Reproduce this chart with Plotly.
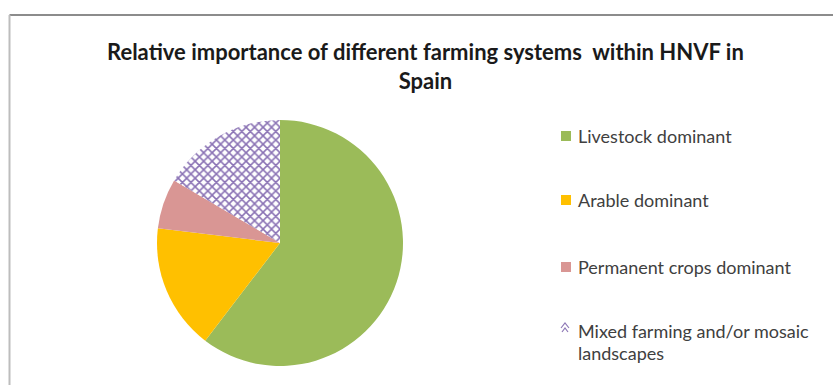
import plotly.graph_objects as go

W, H = 833, 385

# Share of HNVF area by farming system
labels = ["Livestock dominant", "Arable dominant", "Permanent crops dominant",
          "Mixed farming and/or mosaic landscapes"]
values = [60.4, 16.5, 6.6, 16.5]
colors = ["#9BBB59", "#FFC000", "#D99694", "#FFFFFF"]
legend_lines = [["Livestock dominant"], ["Arable dominant"], ["Permanent crops dominant"],
                ["Mixed farming and/or mosaic", "landscapes"]]
title_text = "Relative importance of different farming systems  within HNVF in<br>Spain"


def px(x, y):
    """Convert pixel position (from top-left) to paper coordinates."""
    return x / W, 1 - y / H


cx, cy, r = 280, 243, 123
dx0, dy0 = px(cx - r, cy + r)
dx1, dy1 = px(cx + r, cy - r)

fig = go.Figure(go.Pie(
    labels=labels,
    values=values,
    sort=False,
    direction="clockwise",
    rotation=0,
    textinfo="none",
    hoverinfo="label+percent",
    showlegend=False,
    domain=dict(x=[dx0, dx1], y=[dy0, dy1]),
    marker=dict(
        colors=colors,
        line=dict(width=0),
        pattern=dict(
            shape=["", "", "", "x"],
            fgcolor="#8A72B4",
            bgcolor=["#9BBB59", "#FFC000", "#D99694", "#FFFFFF"],
            size=6,
            solidity=0.45,
        ),
    ),
))

shapes = []
annotations = []

# chart frame (top and left edges visible)
x0, y0 = px(9.5, 15)
x1, _ = px(W + 5, 15)
shapes.append(dict(type="line", xref="paper", yref="paper", x0=x0, y0=y0, x1=x1, y1=y0,
                   line=dict(color="#8C8C8C", width=2)))
_, yb = px(9.5, H + 5)
shapes.append(dict(type="line", xref="paper", yref="paper", x0=x0, y0=y0, x1=x0, y1=yb,
                   line=dict(color="#BDBDBD", width=2)))

# legend drawn by hand for the wide row spacing
row_y = [136, 200, 267, 331]
for i, (lines, yc) in enumerate(zip(legend_lines, row_y)):
    if i < 3:
        a0, b0 = px(561, yc - 5)
        a1, b1 = px(571, yc + 5)
        shapes.append(dict(type="rect", xref="paper", yref="paper", x0=a0, y0=b1, x1=a1, y1=b0,
                           fillcolor=colors[i], line=dict(width=0)))
    else:
        pts = [(561, yc - 3), (565, yc - 8), (569, yc - 3)]
        pts2 = [(562, yc + 1), (565, yc - 3), (568, yc + 1)]
        for p in (pts, pts2):
            path = "M " + " L ".join(f"{px(a, b)[0]} {px(a, b)[1]}" for a, b in p)
            shapes.append(dict(type="path", xref="paper", yref="paper", path=path,
                               line=dict(color="#8E78B6", width=1.2)))
    for k, line in enumerate(lines):
        ax, ay = px(576, yc + 22 * k)
        annotations.append(dict(text=line, xref="paper", yref="paper", x=ax, y=ay,
                                xanchor="left", yanchor="middle", showarrow=False,
                                font=dict(family="Lato", size=18, color="#404040")))

tx, ty = px(425, 66)
annotations.append(dict(text=f"<b>{title_text}</b>", xref="paper", yref="paper", x=tx, y=ty,
                        xanchor="center", yanchor="middle", showarrow=False, align="center",
                        font=dict(family="Lato", size=22, color="#1A1A1A")))

fig.update_layout(
    width=W, height=H,
    margin=dict(l=0, r=0, t=0, b=0),
    paper_bgcolor="white",
    plot_bgcolor="white",
    shapes=shapes,
    annotations=annotations,
)

fig.write_html("out.html")
